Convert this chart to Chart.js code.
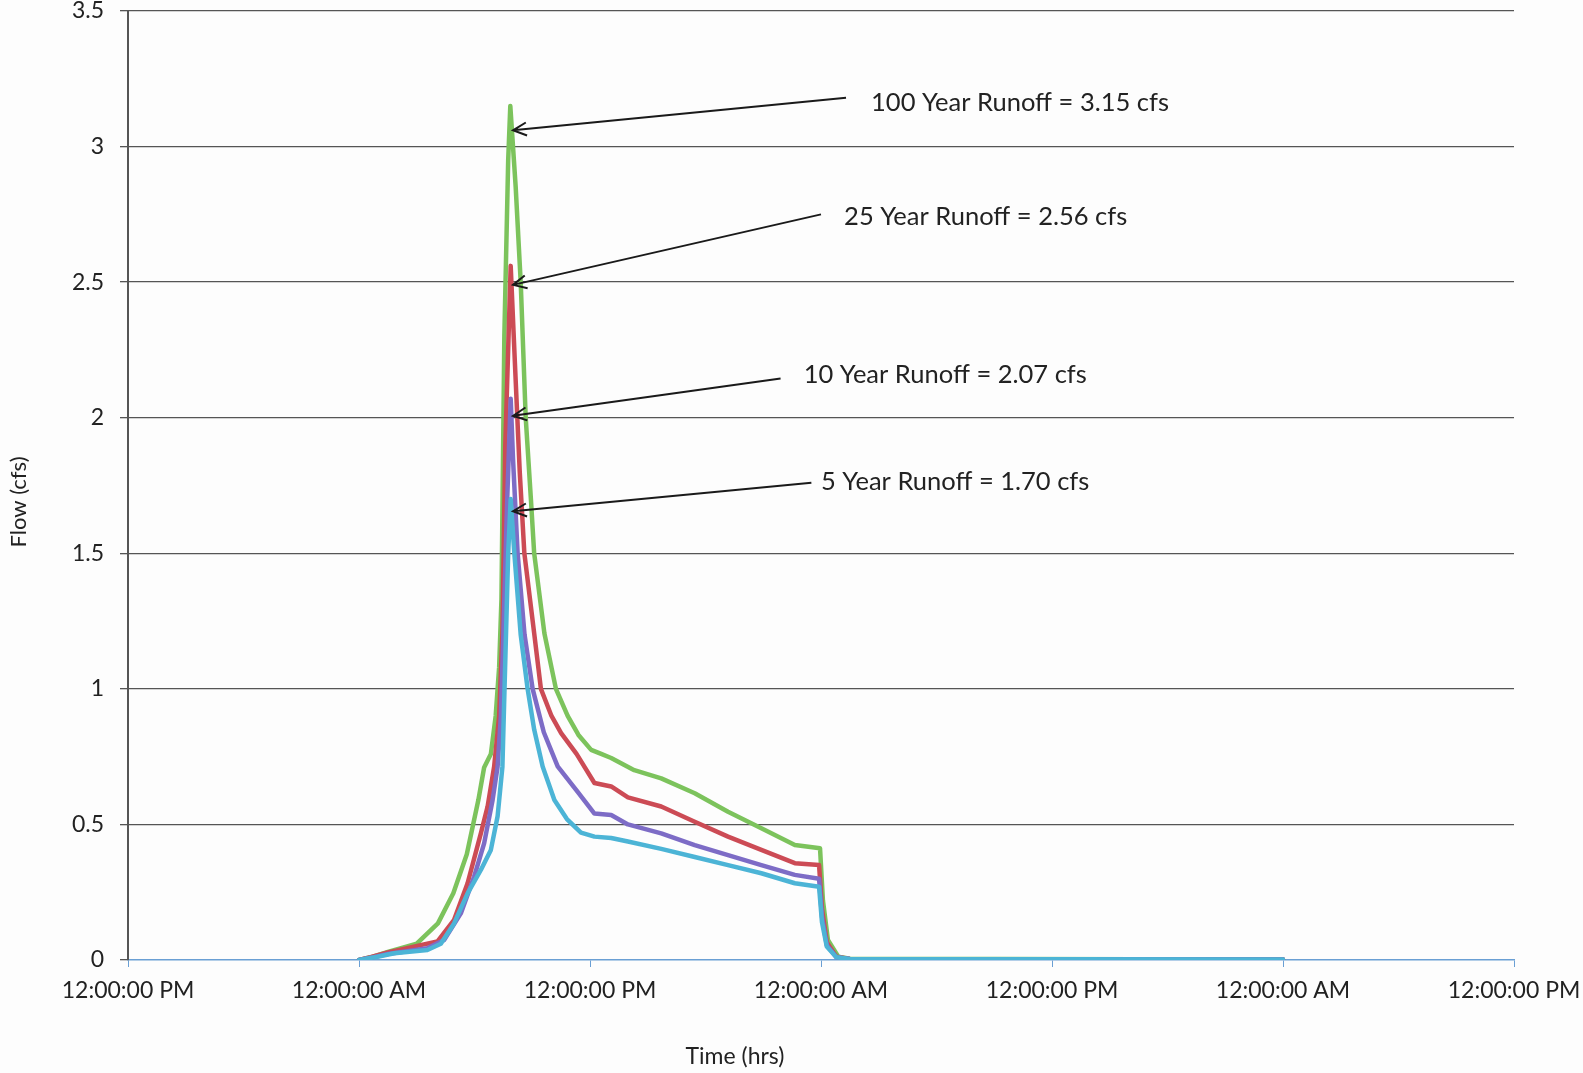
<!DOCTYPE html>
<html>
<head>
<meta charset="utf-8">
<script src="https://cdn.jsdelivr.net/npm/chart.js@4.4.1/dist/chart.umd.min.js"></script>
<style>
  body { margin: 0; background: #fdfdfd; }
  #wrap { width: 1583px; height: 1073px; position: relative; }
</style>
</head>
<body>
<div id="wrap"><canvas id="myChart"></canvas></div>
<script>
// x ticks every 12 hrs, labels alternate PM / AM
var tickLabels = ["12:00:00 PM", "12:00:00 AM"];

// 100 year storm (hours, cfs)
var hours100 = [12, 12.6, 13.5, 15.0, 16.1, 16.9, 17.6, 18.2, 18.5, 18.85, 19.1, 19.28, 19.4, 19.55, 19.75, 19.86, 20.14, 20.4, 20.66, 20.93, 21.1, 21.63, 22.23, 22.84, 23.4, 24.06, 24.58, 25.1, 26.3, 27.7, 29.44, 31.17, 32.9, 34.64, 35.95, 36.1, 36.36, 36.9, 37.5, 60];
var flow100 = [0, 0.01, 0.03, 0.06, 0.135, 0.246, 0.39, 0.59, 0.71, 0.76, 0.90, 1.08, 1.33, 2.3, 2.95, 3.15, 2.85, 2.5, 2.0, 1.7, 1.5, 1.205, 1.0, 0.9, 0.83, 0.775, 0.76, 0.745, 0.70, 0.67, 0.615, 0.547, 0.486, 0.424, 0.412, 0.22, 0.074, 0.012, 0.005, 0.002];

// 25 year storm
var hours25 = [12, 12.6, 13.5, 15.2, 16.07, 16.94, 17.64, 18.33, 18.68, 19.02, 19.28, 19.45, 19.6, 19.88, 20.1, 20.35, 20.59, 21.1, 21.45, 22.0, 22.5, 23.3, 24.23, 25.1, 25.97, 27.7, 29.44, 31.17, 32.9, 34.64, 35.9, 36.05, 36.3, 36.8, 37.5, 60];
var flow25 = [0, 0.01, 0.028, 0.055, 0.068, 0.148, 0.283, 0.467, 0.566, 0.713, 0.90, 1.205, 1.9, 2.56, 2.2, 1.8, 1.5, 1.205, 1.0, 0.90, 0.837, 0.76, 0.653, 0.64, 0.60, 0.566, 0.51, 0.455, 0.406, 0.357, 0.35, 0.19, 0.065, 0.012, 0.004, 0.002];

// 10 year storm
var hours10 = [12, 12.6, 13.5, 15.55, 16.42, 17.29, 17.98, 18.5, 18.94, 19.2, 19.37, 19.5, 19.7, 19.88, 20.0, 20.24, 20.6, 21.02, 21.6, 22.32, 23.36, 24.23, 25.1, 25.97, 27.7, 29.44, 31.17, 32.9, 34.64, 35.9, 36.05, 36.3, 36.8, 37.5, 60];
var flow10 = [0, 0.008, 0.022, 0.043, 0.074, 0.172, 0.307, 0.43, 0.59, 0.713, 0.90, 1.205, 1.7, 2.07, 1.85, 1.5, 1.2, 1.0, 0.84, 0.714, 0.62, 0.54, 0.535, 0.50, 0.467, 0.424, 0.387, 0.35, 0.314, 0.30, 0.16, 0.055, 0.01, 0.004, 0.002];

// 5 year storm
var hours5 = [12, 12.96, 13.83, 15.55, 16.25, 16.94, 17.64, 18.33, 18.85, 19.2, 19.45, 19.59, 19.75, 19.88, 20.07, 20.4, 20.76, 21.1, 21.54, 22.15, 22.8, 23.53, 24.23, 25.1, 25.97, 27.7, 29.44, 31.17, 32.9, 34.64, 35.9, 36.05, 36.3, 36.8, 37.5, 60];
var flow5 = [0, 0.012, 0.025, 0.037, 0.06, 0.135, 0.246, 0.332, 0.406, 0.53, 0.713, 1.08, 1.5, 1.70, 1.5, 1.2, 1.0, 0.85, 0.714, 0.59, 0.52, 0.47, 0.455, 0.45, 0.437, 0.41, 0.38, 0.35, 0.32, 0.283, 0.27, 0.14, 0.05, 0.01, 0.004, 0.002];

// callouts (text anchor, arrow tail, arrow tip) in hours / cfs
var noteLabels = ["100 Year Runoff = 3.15 cfs", "25 Year Runoff = 2.56 cfs", "10 Year Runoff = 2.07 cfs", "5 Year Runoff = 1.70 cfs"];
var noteTextHour = [38.6, 37.2, 35.1, 36.0];
var noteTextFlow = [3.16, 2.74, 2.16, 1.765];
var noteTailHour = [37.3, 36.0, 33.9, 35.5];
var noteTailFlow = [3.18, 2.75, 2.145, 1.76];
var noteTipHour = [20.0, 20.0, 20.0, 20.0];
var noteTipFlow = [3.06, 2.49, 2.007, 1.655];

var FONT = "Lato, 'Open Sans', sans-serif";

function toPoints(hrs, vals) {
  var pts = [];
  hrs.forEach(function(h, i) {
    pts.push({ x: h, y: vals[i] });
  });
  return pts;
}

// background + axis titles + callout arrows
var extras = {
  id: "extras",
  beforeDraw: function(chart) {
    var c = chart.ctx;
    c.save();
    c.fillStyle = "#fdfdfd";
    c.fillRect(0, 0, chart.width, chart.height);
    c.restore();
  },
  afterDraw: function(chart) {
    var c = chart.ctx;
    var xs = chart.scales.x, ys = chart.scales.y;
    c.save();
    c.fillStyle = "#222";
    c.font = "23px " + FONT;
    c.textAlign = "center";
    c.textBaseline = "middle";
    c.fillText("Time (hrs)", 735, 1057);
    c.translate(19, 502);
    c.rotate(-Math.PI / 2);
    c.font = "22px " + FONT;
    c.fillText("Flow (cfs)", 0, 0);
    c.restore();

    c.save();
    noteLabels.forEach(function(txt, i) {
      var tx = xs.getPixelForValue(noteTailHour[i]), ty = ys.getPixelForValue(noteTailFlow[i]);
      var px = xs.getPixelForValue(noteTipHour[i]), py = ys.getPixelForValue(noteTipFlow[i]);
      c.strokeStyle = "#1a1a1a";
      c.lineWidth = 2;
      c.beginPath();
      c.moveTo(tx, ty);
      c.lineTo(px, py);
      var ang = Math.atan2(ty - py, tx - px);
      var len = 15, spread = 0.45;
      c.moveTo(px + len * Math.cos(ang + spread), py + len * Math.sin(ang + spread));
      c.lineTo(px, py);
      c.lineTo(px + len * Math.cos(ang - spread), py + len * Math.sin(ang - spread));
      c.stroke();
      c.fillStyle = "#222";
      c.font = "25.5px " + FONT;
      c.textAlign = "left";
      c.textBaseline = "middle";
      c.fillText(txt, xs.getPixelForValue(noteTextHour[i]), ys.getPixelForValue(noteTextFlow[i]));
    });
    c.restore();
  }
};

var ctx = document.getElementById("myChart").getContext("2d");
var chart = new Chart(ctx, {
  type: "line",
  data: {
    datasets: [
      { label: "5 Year", data: toPoints(hours5, flow5), borderColor: "#4cb4d6" },
      { label: "10 Year", data: toPoints(hours10, flow10), borderColor: "#7d6cc6" },
      { label: "25 Year", data: toPoints(hours25, flow25), borderColor: "#cc4b55" },
      { label: "100 Year", data: toPoints(hours100, flow100), borderColor: "#7cc35c" }
    ]
  },
  options: {
    responsive: true,
    maintainAspectRatio: false,
    animation: false,
    layout: { padding: { top: 11, right: 69, left: 0, bottom: 0 } },
    elements: {
      point: { radius: 0 },
      line: { borderWidth: 4.5, tension: 0, borderJoinStyle: "round", borderCapStyle: "round" }
    },
    plugins: {
      legend: { display: false },
      tooltip: { enabled: false }
    },
    scales: {
      x: {
        type: "linear",
        min: 0,
        max: 72,
        afterFit: function(scale) {
          scale.height = 113;
          scale.paddingLeft = 0;
          scale.paddingRight = 0;
        },
        border: { display: true, color: "#6a9fd4", width: 1.5 },
        grid: { drawOnChartArea: false, drawTicks: true, tickLength: 7, color: "#6a9fd4" },
        ticks: {
          stepSize: 12,
          autoSkip: false,
          maxRotation: 0,
          padding: 10,
          color: "#222",
          font: { family: FONT, size: 23 },
          callback: function(v) { return tickLabels[(v / 12) % 2]; }
        }
      },
      y: {
        min: 0,
        max: 3.5,
        afterFit: function(scale) {
          scale.width = 128;
          scale.paddingTop = 0;
          scale.paddingBottom = 0;
        },
        border: { display: true, color: "#555", width: 2 },
        grid: {
          color: function(c) { return c.tick && c.tick.value === 0 ? "rgba(0,0,0,0)" : "#555"; },
          tickColor: "#555",
          lineWidth: 1.3,
          tickLength: 8
        },
        ticks: {
          stepSize: 0.5,
          padding: 16,
          color: "#222",
          font: { family: FONT, size: 23 },
          callback: function(v) { return String(v); }
        }
      }
    }
  },
  plugins: [extras]
});
</script>
</body>
</html>
